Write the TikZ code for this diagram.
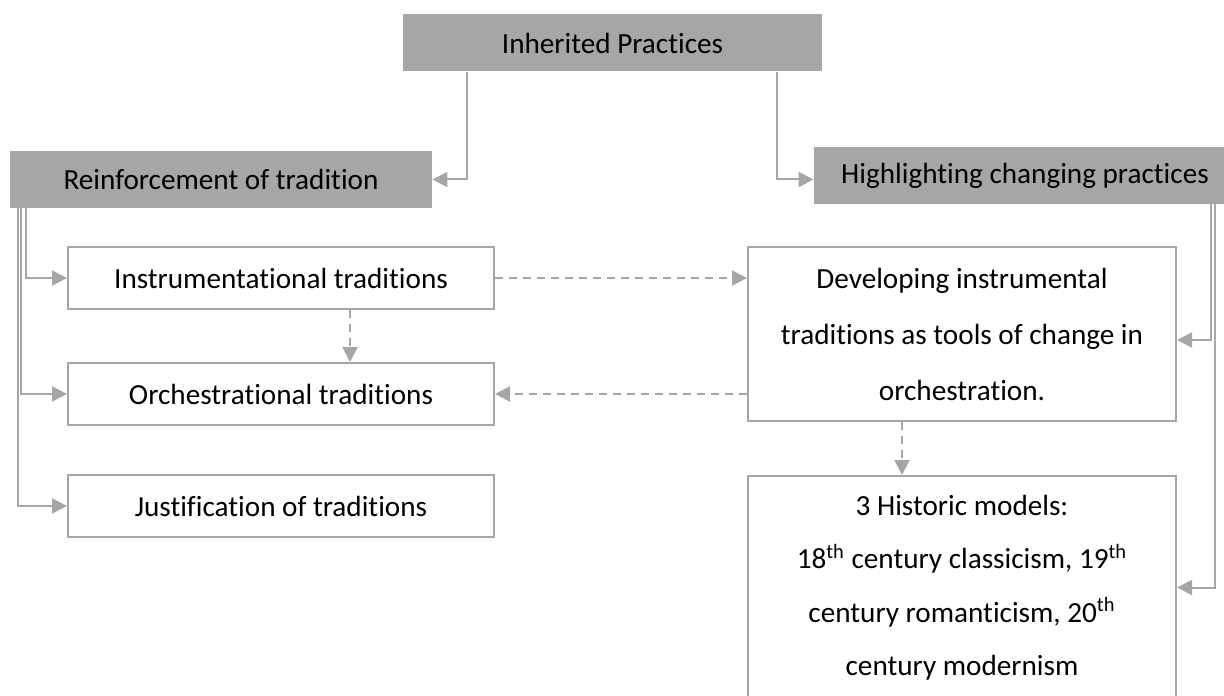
\documentclass[tikz,border=0pt]{standalone}
\usepackage{fontspec}
\setmainfont{Carlito}[Ligatures=NoCommon]
\usepackage{tikz}
\usetikzlibrary{arrows.meta}
\definecolor{boxgray}{HTML}{A6A6A6}

\begin{document}
\begin{tikzpicture}[x=0.5pt,y=-0.5pt,>={Triangle[length=7.5pt,width=7.5pt]},
  every node/.style={font=\fontsize{14.6}{28}\selectfont,inner sep=0pt,align=center},
  hdr/.style={fill=boxgray,minimum height=28.5pt},
  box/.style={draw=boxgray,line width=1pt,fill=white},
  link/.style={->,boxgray,line width=1pt},
  dlink/.style={link,dash pattern=on 4pt off 3pt}]
\useasboundingbox (0,0) rectangle (1224,695);
% Top and the two branches
\node[hdr,minimum width=209.5pt] (inh) at (612.5,43) {Inherited Practices};
\node[hdr,minimum width=211pt] (reinf) at (221,179.5) {Reinforcement of tradition};
\node[hdr,minimum width=211pt] (high) at (1025,175.5) {Highlighting changing practices};
% Left column
\node[box,minimum width=213pt,minimum height=31pt] (instr) at (281,278) {Instrumentational traditions};
\node[box,minimum width=213pt,minimum height=31pt] (orch) at (281,394) {Orchestrational traditions};
\node[box,minimum width=213pt,minimum height=31pt] (just) at (281,506) {Justification of traditions};
% Right column
\node[box,minimum width=214pt,minimum height=87pt] (dev) at (962,334)
  {Developing instrumental\\traditions as tools of change in\\orchestration.};
\node[box,minimum width=214pt,minimum height=111.5pt,font=\fontsize{14.6}{26.75}\selectfont] (hist) at (962,587.5)
  {3 Historic models:\\18\textsuperscript{th} century classicism, 19\textsuperscript{th}\\
   century romanticism, 20\textsuperscript{th}\\century modernism};
% Solid connectors
\draw[link] ([xshift=32pt]inh.south west) |- (reinf.east);
\draw[link] ([xshift=-22.5pt]inh.south east) |- (high.west |- reinf.east);
\draw[link] ([xshift=8pt]reinf.south west) |- (instr.west);
\draw[link] ([xshift=5.5pt]reinf.south west) |- (orch.west);
\draw[link] ([xshift=4pt]reinf.south west) |- (just.west);
\draw[link] ([xshift=-12.5pt]high.south east) |- ([yshift=-3pt]dev.east);
\draw[link] ([xshift=-10.5pt]high.south east) |- (hist.east);
% Dashed connectors
\draw[dlink] ([xshift=34.5pt]instr.south) -- ([xshift=34.5pt]orch.north);
\draw[dlink] (instr.east) -- (instr.east -| dev.west);
\draw[dlink] (dev.west |- orch.east) -- (orch.east);
\draw[dlink] ([xshift=-30pt]dev.south) -- ([xshift=-30pt]hist.north);
\end{tikzpicture}
\end{document}
